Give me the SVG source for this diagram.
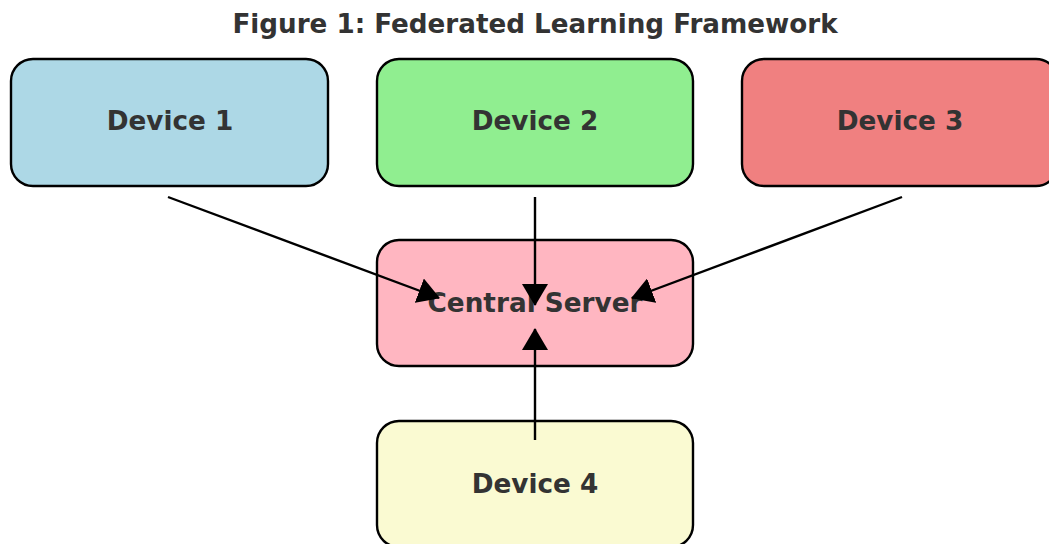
<svg xmlns="http://www.w3.org/2000/svg" width="1049" height="544" viewBox="0 0 1049 544">
<style>
.box{stroke:#000;stroke-width:2.4}
.lbl{font-family:"DejaVu Sans",sans-serif;font-weight:bold;font-size:26.3px;fill:#333;text-anchor:middle}
.title{font-family:"DejaVu Sans",sans-serif;font-weight:bold;font-size:26.2px;fill:#333;text-anchor:middle}
.conn{stroke:#000;stroke-width:2.4;fill:none}
</style>
<defs>
<marker id="ah" viewBox="0 0 22 26" refX="21" refY="13" markerWidth="22" markerHeight="26" markerUnits="userSpaceOnUse" orient="auto">
<path d="M0,0 L22,13 L0,26 z" fill="#000"/>
</marker>
</defs>
<rect width="1049" height="544" fill="#fff"/>
<text class="title" x="535" y="33">Figure 1: Federated Learning Framework</text>
<g id="device1"><rect class="box" x="11" y="59" width="317" height="127" rx="22" fill="#ADD8E6"/><text class="lbl" x="170" y="130">Device 1</text></g>
<g id="device2"><rect class="box" x="377" y="59" width="316" height="127" rx="22" fill="#90EE90"/><text class="lbl" x="535" y="130">Device 2</text></g>
<g id="device3"><rect class="box" x="742" y="59" width="316" height="127" rx="22" fill="#F08080"/><text class="lbl" x="900" y="130">Device 3</text></g>
<g id="server"><rect class="box" x="377" y="240" width="316" height="126" rx="22" fill="#FFB6C1"/><text class="lbl" x="535" y="312">Central Server</text></g>
<g id="device4"><rect class="box" x="377" y="421" width="316" height="126" rx="22" fill="#FAFAD2"/><text class="lbl" x="535" y="493">Device 4</text></g>
<g id="connectors">
<line class="conn" x1="168" y1="197" x2="439" y2="298" marker-end="url(#ah)"/>
<line class="conn" x1="535" y1="197" x2="535" y2="305" marker-end="url(#ah)"/>
<line class="conn" x1="902" y1="197" x2="632" y2="298" marker-end="url(#ah)"/>
<line class="conn" x1="535" y1="440" x2="535" y2="329" marker-end="url(#ah)"/>
</g>
</svg>
